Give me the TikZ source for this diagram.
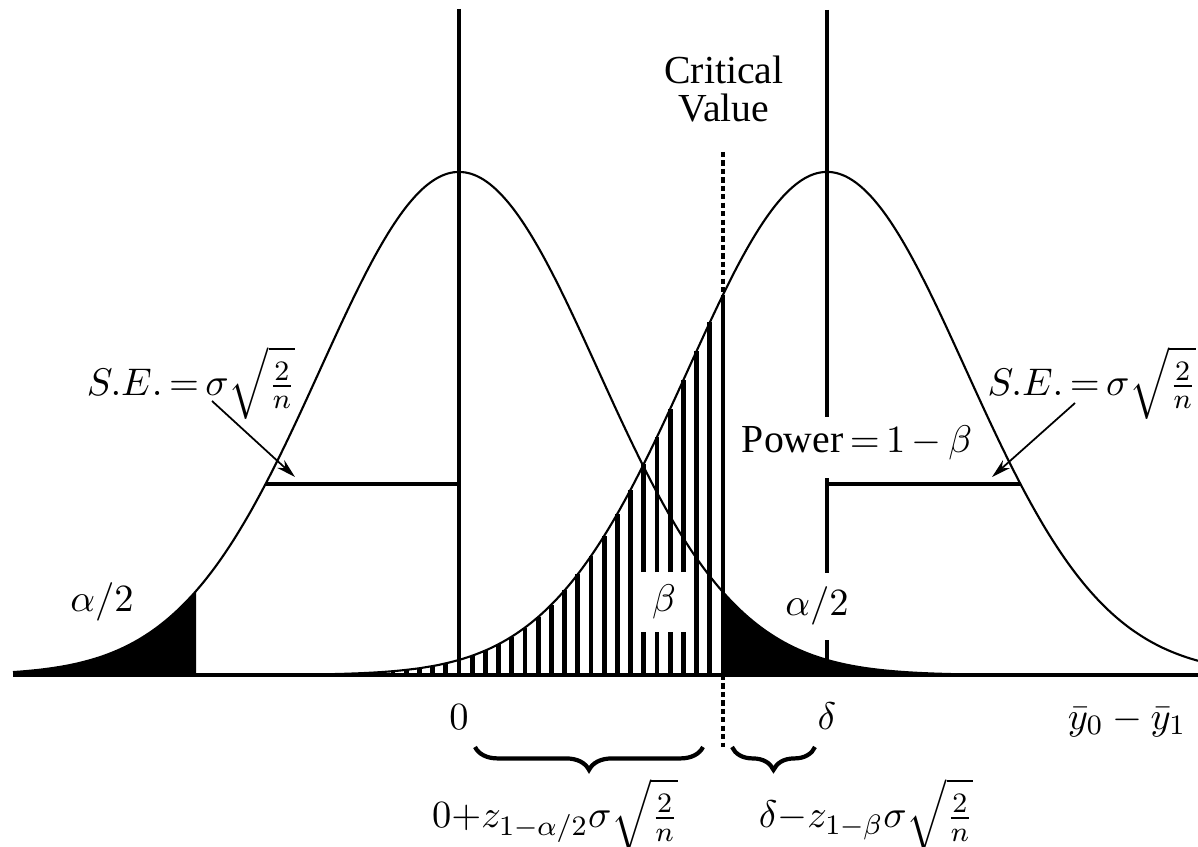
\documentclass[tikz,border=0pt]{standalone}
\usepackage{amsmath,amssymb}
\usepackage[no-math]{fontspec}
\setmainfont{Liberation Serif}
\usetikzlibrary{arrows.meta,decorations.pathreplacing}

\begin{document}
\begin{tikzpicture}[x=0.01cm, y=-0.01cm, every node/.style={font=\fontsize{11.3}{11}\selectfont, inner sep=0pt}, >={Stealth[length=5.5pt,width=3pt]},
	declare function={dens(\x,\m)=675-503*exp(-((\x-\m)/139)*((\x-\m)/139)/2);},
	curve/.style={line width=0.6pt, smooth, samples=200},
	hatch/.style={line width=1.35pt},
	meanline/.style={line width=1pt},
	cvdash/.style={line width=1pt, dash pattern=on 1.5pt off 0.9pt},
	ubrace/.style={decorate, decoration={brace, mirror, amplitude=6.5pt}, line width=1.2pt}]
	\fill[white] (0,0) rectangle (1198,846);
	\useasboundingbox (0,0) rectangle (1198,846);
	% tails
	\fill (13,675) -- plot[domain=13:196, samples=60] (\x,{dens(\x,459)}) -- (196,675) -- cycle;
	\fill (723,675) -- plot[domain=723:1000, samples=80] (\x,{dens(\x,459)}) -- (1000,675) -- cycle;
	% beta region
	\foreach \k in {1,2,7,8,...,26}
		\draw[hatch] ({723-13.2*\k},675) -- ({723-13.2*\k},{dens(723-13.2*\k,827)});
	\foreach \k in {3,...,6} {
		\draw[hatch] ({723-13.2*\k},675) -- ({723-13.2*\k},632);
		\draw[hatch] ({723-13.2*\k},572) -- ({723-13.2*\k},{dens(723-13.2*\k,827)});
	}
	% curves
	\draw[curve] plot[domain=13:1198] (\x,{dens(\x,459)});
	\draw[curve] plot[domain=300:1198] (\x,{dens(\x,827)});
	\draw[meanline] (459,9) -- (459,675);
	\draw[meanline] (827,10) -- (827,417) (827,478) -- (827,573) (827,640) -- (827,675);
	\draw[line width=1.2pt] (13,675) -- (1198,675);
	% critical value
	\coordinate (cvtop) at (723,152);
	\coordinate (cvcut) at (723,{dens(723,827)});
	\coordinate (cvbase) at (723,675);
	\coordinate (cvend) at (723,747);
	\draw[cvdash] (cvtop) -- (cvcut);
	\draw[hatch] (cvcut) -- (cvbase);
	\draw[cvdash] (cvbase) -- (cvend);
	\node[align=center] (crit) at (724,89) {Critical\\Value};
	% standard errors
	\draw[meanline] (265.5,484) -- (459,484);
	\draw[meanline] (827,484) -- (1020.5,484);
	\node (sel) at (191,383) {$S.E.\,{=}\,\sigma\sqrt{\frac{2}{n}}$};
	\node[anchor=west] (ser) at (987,383) {$S.E.\,{=}\,\sigma\sqrt{\frac{2}{n}}$};
	\coordinate (seltail) at (212,401);
	\coordinate (seltip) at (295,477);
	\coordinate (sertail) at (1075,403);
	\coordinate (sertip) at (992,477);
	\draw[->, line width=0.5pt] (seltail) -- (seltip);
	\draw[->, line width=0.5pt] (sertail) -- (sertip);
	\node (power) at (857,443) {Power$\,{=}\,1\,{-}\,\beta$};
	\node (alphal) at (102,602) {$\alpha/2$};
	\node (alphar) at (817,606) {$\alpha/2$};
	\node (beta) at (664,602) {$\beta$};
	% axis labels
	\node[anchor=base] (zero) at (459,729) {$0$};
	\node[anchor=base] (delta) at (827,729) {$\delta$};
	\node[anchor=base] (diff) at (1127,729) {$\bar y_0-\bar y_1$};
	\draw[ubrace] (475,747) -- (703,747);
	\draw[ubrace] (732,747) -- (815,747);
	\node[anchor=north] (cvl) at (555,778) {$0{+}z_{1{-}\alpha/2}\sigma\sqrt{\frac{2}{n}}$};
	\node[anchor=north] (cvr) at (866,778) {$\delta{-}z_{1{-}\beta}\sigma\sqrt{\frac{2}{n}}$};
\end{tikzpicture}
\end{document}
